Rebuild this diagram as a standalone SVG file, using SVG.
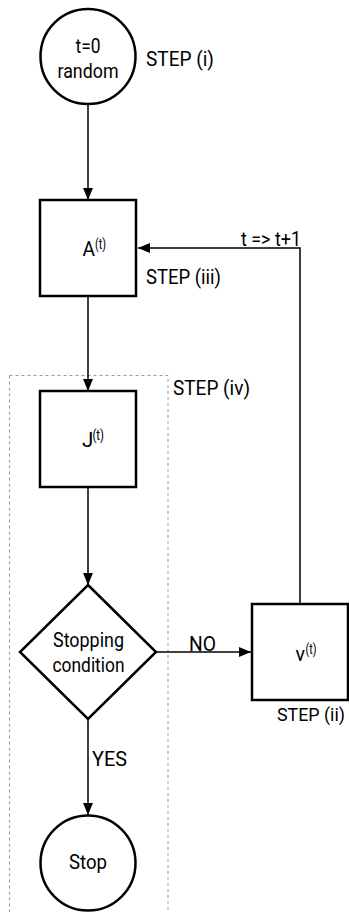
<svg xmlns="http://www.w3.org/2000/svg" width="349" height="912" viewBox="0 0 349 912">
<style>
  .node { fill: #ffffff; stroke: #000000; stroke-width: 2.5; }
  .edge { fill: none; stroke: #000000; stroke-width: 1.5; }
  .group { fill: none; stroke: #9a9a9a; stroke-width: 1; stroke-dasharray: 3 3; }
  text { font-family: Roboto, "Liberation Sans", Arial, sans-serif; fill: #000000; }
  .t { font-size: 20.5px; }
  .lbl { font-size: 20.5px; }
  .sup { font-size: 14px; }
</style>
<defs>
  <marker id="arrow" markerUnits="userSpaceOnUse" markerWidth="13" markerHeight="11" refX="12" refY="5" orient="auto">
    <path d="M0,0 L12,5 L0,10 Z" fill="#000000"/>
  </marker>
</defs>
<rect width="349" height="912" fill="#ffffff"/>

<g id="group-step-iv">
  <rect class="group" x="9.5" y="375.5" width="158.5" height="560"/>
  <text class="lbl" x="173" y="395" textLength="77" lengthAdjust="spacingAndGlyphs">STEP (iv)</text>
</g>

<g id="connectors">
  <line class="edge" x1="88" y1="104" x2="88" y2="200" marker-end="url(#arrow)"/>
  <line class="edge" x1="88" y1="297" x2="88" y2="391" marker-end="url(#arrow)"/>
  <line class="edge" x1="88" y1="488" x2="88" y2="585" marker-end="url(#arrow)"/>
  <line class="edge" x1="156" y1="652" x2="251" y2="652" marker-end="url(#arrow)"/>
  <line class="edge" x1="88" y1="719" x2="88" y2="815" marker-end="url(#arrow)"/>
  <polyline class="edge" points="300,604 300,248 138,248" marker-end="url(#arrow)"/>
  <text class="lbl" x="241" y="246" textLength="60" lengthAdjust="spacingAndGlyphs">t =&gt; t+1</text>
  <text class="lbl" x="189" y="650.5" textLength="27" lengthAdjust="spacingAndGlyphs">NO</text>
  <text class="lbl" x="92" y="766" textLength="35" lengthAdjust="spacingAndGlyphs">YES</text>
</g>

<g id="node-start">
  <circle class="node" cx="88" cy="56.5" r="47.5"/>
  <text class="t" x="88" y="53" text-anchor="middle" textLength="25" lengthAdjust="spacingAndGlyphs">t=0</text>
  <text class="t" x="88" y="78" text-anchor="middle" textLength="61" lengthAdjust="spacingAndGlyphs">random</text>
  <text class="lbl" x="146" y="66" textLength="68" lengthAdjust="spacingAndGlyphs">STEP (i)</text>
</g>

<g id="node-A">
  <rect class="node" x="40" y="200" width="96" height="96"/>
  <text class="t" x="82.5" y="256" textLength="12.5" lengthAdjust="spacingAndGlyphs">A</text>
  <text class="sup" x="95" y="249" textLength="11" lengthAdjust="spacingAndGlyphs">(t)</text>
  <text class="lbl" x="146" y="284" textLength="75" lengthAdjust="spacingAndGlyphs">STEP (iii)</text>
</g>

<g id="node-J">
  <rect class="node" x="40" y="391" width="96" height="96"/>
  <text class="t" x="82" y="447">J</text>
  <text class="sup" x="92.5" y="440" textLength="11.5" lengthAdjust="spacingAndGlyphs">(t)</text>
</g>

<g id="node-stopping">
  <polygon class="node" points="88,585 156,652 88,719 20,652"/>
  <text class="t" x="88.5" y="647" text-anchor="middle" textLength="71" lengthAdjust="spacingAndGlyphs">Stopping</text>
  <text class="t" x="88.5" y="672" text-anchor="middle" textLength="72" lengthAdjust="spacingAndGlyphs">condition</text>
</g>

<g id="node-v">
  <rect class="node" x="252" y="604" width="96" height="96"/>
  <text class="t" x="295.5" y="661" textLength="9.5" lengthAdjust="spacingAndGlyphs">v</text>
  <text class="sup" x="305.5" y="654" textLength="11" lengthAdjust="spacingAndGlyphs">(t)</text>
  <text x="277" y="721" font-size="18.5" textLength="68" lengthAdjust="spacingAndGlyphs">STEP (ii)</text>
</g>

<g id="node-stop">
  <circle class="node" cx="88" cy="863" r="47.5"/>
  <text class="t" x="88" y="869" text-anchor="middle" textLength="38" lengthAdjust="spacingAndGlyphs">Stop</text>
</g>
</svg>
